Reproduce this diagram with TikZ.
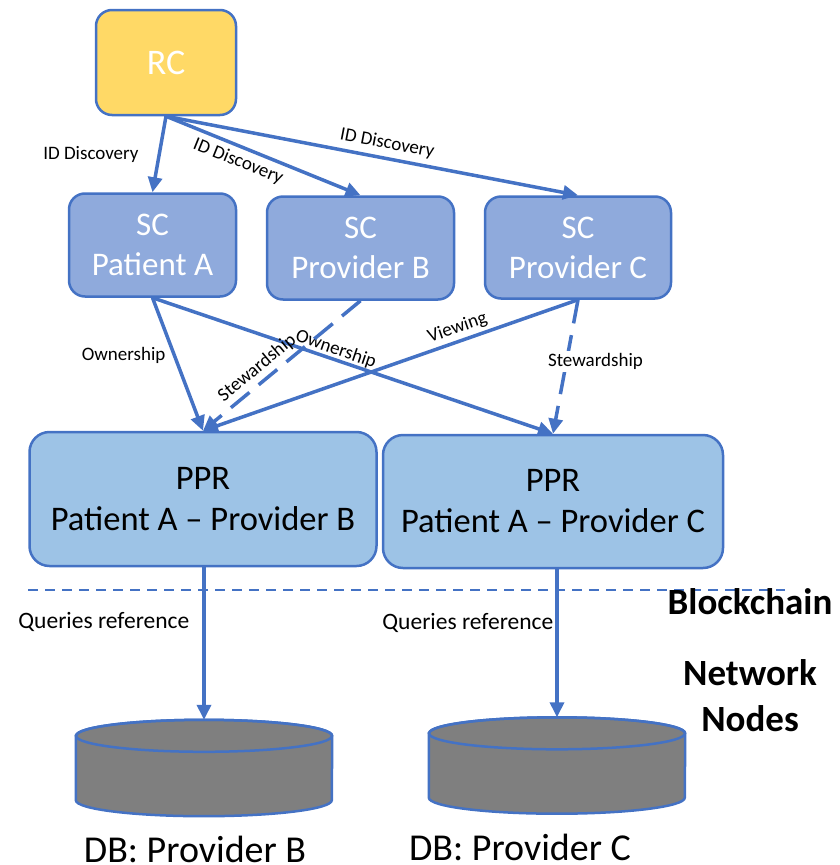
\documentclass[tikz,border=0pt]{standalone}
\usepackage{fontspec}
\setmainfont{Carlito}
\usetikzlibrary{arrows.meta,positioning}
\definecolor{linkblue}{HTML}{4472C4}
\definecolor{rcyellow}{HTML}{FFD966}
\definecolor{scblue}{HTML}{8FAADC}
\definecolor{pprblue}{HTML}{9DC3E6}
\definecolor{dbgray}{HTML}{7F7F7F}

\begin{document}
\begin{tikzpicture}[x=1pt,y=-1pt,
  box/.style={draw=linkblue,line width=2.5pt,rounded corners=16pt,align=center,inner sep=0pt},
  link/.style={draw=linkblue,line width=3.5pt,-{Triangle[length=15pt,width=14pt]}},
  dlink/.style={link,dash pattern=on 24pt off 12pt},
  lbl/.style={font=\fontsize{19}{22}\selectfont,inner sep=2pt},
  db/.style={minimum width=256pt,minimum height=96pt,inner sep=0pt},
  big/.style={font=\fontsize{38}{44}\selectfont,inner sep=0pt}]
  \useasboundingbox (0,0) rectangle (840,865);

  % Registry contract
  \node[box,fill=rcyellow,text=white,minimum width=140pt,minimum height=105pt,font=\fontsize{36}{43}\selectfont] (rc) at (166,62.5) {RC};

  % Summary contracts
  \node[box,fill=scblue,text=white,minimum width=167pt,minimum height=103pt,font=\fontsize{33}{40}\selectfont] (scA) at (152.5,245) {SC\\Patient A};
  \node[box,fill=scblue,text=white,minimum width=187pt,minimum height=103pt,font=\fontsize{33}{40}\selectfont] (scB) at (360.5,248) {SC\\Provider B};
  \node[box,fill=scblue,text=white,minimum width=186pt,minimum height=102pt,font=\fontsize{33}{40}\selectfont] (scC) at (578,247.5) {SC\\Provider C};

  % Patient-provider relationships
  \node[box,fill=pprblue,rounded corners=20pt,minimum width=347pt,minimum height=134pt,font=\fontsize{34.5}{41}\selectfont] (ppB) at (203,499) {PPR\\Patient A -- Provider B};
  \node[box,fill=pprblue,rounded corners=20pt,minimum width=340pt,minimum height=133pt,font=\fontsize{34.5}{41}\selectfont] (ppC) at (553,501.5) {PPR\\Patient A -- Provider C};

  % Blockchain border
  \draw[linkblue,line width=2pt,dash pattern=on 10pt off 7pt] (28,590) -- (785,590);
  \node[big,font=\fontsize{37}{46}\selectfont\bfseries,anchor=base] (chain) at (750,614) {Blockchain};
  \node[big,font=\fontsize{37}{46}\selectfont\bfseries,align=center] (nodes) at (750,696) {Network\\Nodes};

  % Databases
  \node[db] (dbB) at (204,768) {};
  \node[db] (dbC) at (557,765.5) {};
  \foreach \db in {dbB,dbC} {
    \filldraw[draw=linkblue,fill=dbgray,line width=2.5pt]
      ([yshift=-16pt]\db.north west) -- ([yshift=16pt]\db.south west)
      arc[start angle=180,end angle=0,x radius=128,y radius=16]
      -- ([yshift=-16pt]\db.north east)
      arc[start angle=0,end angle=-180,x radius=128,y radius=16] -- cycle;
    \draw[linkblue,line width=2.5pt] ([yshift=-16pt]\db.north) ellipse[x radius=128,y radius=16];
  }
  \node[big,anchor=base] (dbBlbl) at (195,862) {DB: Provider B};
  \node[big,anchor=base] (dbClbl) at (520,860) {DB: Provider C};

  % ID discovery
  \draw[link] (rc.south) -- (scA.north) node[lbl,pos=0.5,left=17pt] {ID Discovery};
  \draw[link] (rc.south) -- (scB.north) node[lbl,pos=0.40,sloped,below,inner sep=5pt] {ID Discovery};
  \draw[link] (rc.south) -- (scC.north) node[lbl,pos=0.53,sloped,above,inner sep=5pt] {ID Discovery};

  % Relationships
  \draw[link] (scA.south) -- (ppB.north) node[lbl,pos=0.43,left=5pt] {Ownership};
  \draw[link] (scA.south) -- (ppC.north) node[lbl,pos=0.45,sloped,above,inner sep=0pt] {Ownership};
  \draw[dlink] (scB.south) -- (ppB.north) node[lbl,pos=0.60,sloped,above,inner sep=4pt] {Stewardship};
  \draw[link] (scC.south) -- (ppB.north) node[lbl,pos=0.31,sloped,above,inner sep=3pt] {Viewing};
  \draw[dlink] (scC.south) -- (ppC.north) node[lbl,pos=0.46,fill=white,xshift=29pt] {Stewardship};

  % Queries
  \draw[link] (ppB.south -| dbB.north) -- (dbB.north) node[lbl,pos=0.36,left=11pt,font=\fontsize{23.5}{27}\selectfont] {Queries reference};
  \draw[link] (ppC.south -| dbC.north) -- (dbC.north) node[lbl,pos=0.36,left=0pt,font=\fontsize{23.5}{27}\selectfont] {Queries reference};
\end{tikzpicture}
\end{document}
